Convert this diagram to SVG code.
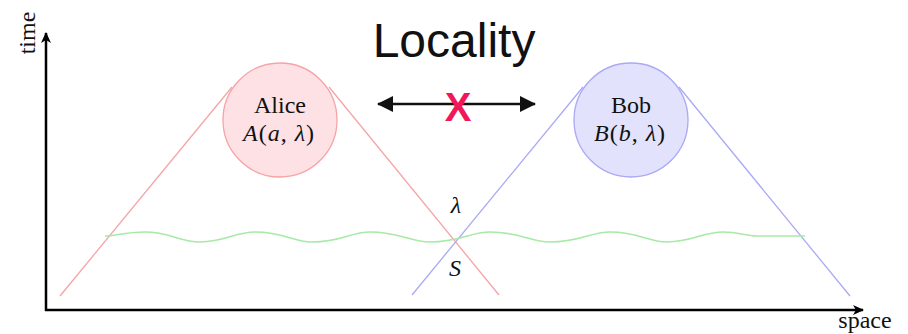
<svg xmlns="http://www.w3.org/2000/svg" width="908" height="334" viewBox="0 0 908 334">
<style>
.serif{font-family:"Liberation Serif","Times New Roman",serif;font-size:24px;fill:#111;}
.it{font-style:italic;}
.up{font-style:normal;}
.red{stroke:#f6a3a6;stroke-width:1.3;fill:none;}
.blue{stroke:#a9a9f5;stroke-width:1.3;fill:none;}
</style>
<defs>
<marker id="axhead" viewBox="0 0 12 12" refX="10" refY="6" markerWidth="12" markerHeight="12" markerUnits="userSpaceOnUse" orient="auto">
<path d="M0,1 L11,6 L0,11 L3,6 Z" fill="#000"/>
</marker>
<marker id="bighead" viewBox="0 0 16 16" refX="15" refY="8" markerWidth="16" markerHeight="16" markerUnits="userSpaceOnUse" orient="auto-start-reverse">
<path d="M0,0 L16,8 L0,16 Z" fill="#111"/>
</marker>
</defs>
<rect width="908" height="334" fill="#fff"/>
<g id="connectors">
<line class="red" x1="60" y1="296" x2="232" y2="87"/>
<line class="red" x1="329" y1="87" x2="499" y2="295"/>
<line class="blue" x1="412" y1="295" x2="583" y2="87"/>
<line class="blue" x1="679" y1="87" x2="850" y2="296"/>
<path d="M105,236 C115,236 125,232 145,232 C170,232 180,242 200,242 C225,242 235,232 255,232 C285,232 292,242 312,242 C342,242 350,232 370,232 C400,232 410,242 430,242 C460,242 470,232 490,232 C520,232 530,242 550,242 C580,242 590,232 610,232 C640,232 647,242 667,242 C692,242 703,232 723,232 C740,232 745,236 757,236 L805,236" fill="none" stroke="#a6eaa6" stroke-width="1.5"/>
<line x1="46" y1="311" x2="46" y2="33" stroke="#000" stroke-width="2.5" marker-end="url(#axhead)"/>
<line x1="45" y1="310" x2="863" y2="310" stroke="#000" stroke-width="2.5" marker-end="url(#axhead)"/>
<line x1="378" y1="104" x2="535" y2="104" stroke="#111" stroke-width="2.5" marker-start="url(#bighead)" marker-end="url(#bighead)"/>
</g>
<g id="alice">
<circle cx="280" cy="120" r="57" fill="#fde1e4" stroke="#f6a3a6" stroke-width="1.3"/>
<text class="serif" x="280" y="113" text-anchor="middle">Alice</text>
<text class="serif" x="279" y="141" text-anchor="middle" letter-spacing="1"><tspan class="it">A</tspan>(<tspan class="it">a</tspan>, <tspan class="it">λ</tspan>)</text>
</g>
<g id="bob">
<circle cx="631" cy="120" r="57" fill="#e2e2fc" stroke="#a9a9f5" stroke-width="1.3"/>
<text class="serif" x="631" y="113" text-anchor="middle">Bob</text>
<text class="serif" x="630" y="141" text-anchor="middle" letter-spacing="1"><tspan class="it">B</tspan>(<tspan class="it">b</tspan>, <tspan class="it">λ</tspan>)</text>
</g>
<g id="labels">
<text x="454" y="57" text-anchor="middle" font-family="Liberation Sans, Arial, sans-serif" font-size="48" fill="#111">Locality</text>
<text x="458" y="121" text-anchor="middle" font-family="Liberation Sans, Arial, sans-serif" font-size="40" font-weight="bold" fill="#f0185a">X</text>
<text class="serif it" x="456" y="213" text-anchor="middle">λ</text>
<text class="serif it" x="455" y="276" text-anchor="middle">S</text>
<text class="serif" x="865" y="328" text-anchor="middle">space</text>
<text class="serif" transform="translate(35,33) rotate(-90)" text-anchor="middle">time</text>
</g>
</svg>
